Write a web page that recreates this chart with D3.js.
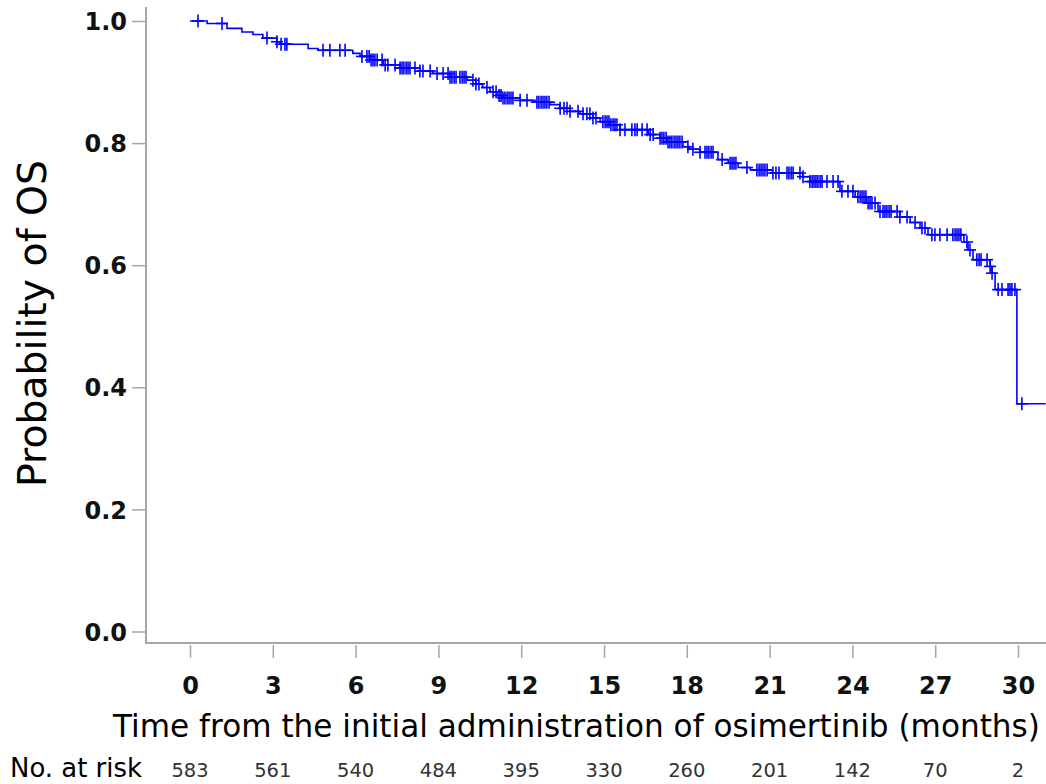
<!DOCTYPE html>
<html><head><meta charset="utf-8">
<script src="https://cdn.jsdelivr.net/npm/d3@7"></script>
<style>body{margin:0;background:#fff}svg{display:block}</style>
</head><body>
<svg id="c" width="1046" height="784"></svg>
<script>
// ---- data ----
const xTicks = [0,3,6,9,12,15,18,21,24,27,30];
const yTicks = [0.0,0.2,0.4,0.6,0.8,1.0];
const atRisk = [583,561,540,484,395,330,260,201,142,70,2];
// KM steps: time (months) and survival after the step
const stepTimes = [0.62,1.34,1.88,2.28,2.64,3.15,3.26,4.28,4.64,5.90,6.16,6.52,7.00,7.60,8.33,8.80,9.42,10.04,10.36,10.60,10.87,11.12,11.34,11.96,12.50,13.04,13.40,13.77,14.13,14.60,14.86,15.20,15.58,16.60,17.03,17.28,17.86,18.10,18.48,19.13,19.50,19.86,20.30,21.10,22.20,22.46,23.55,24.10,24.50,24.93,25.72,26.09,26.45,26.74,28.04,28.19,28.37,28.99,29.06,29.17,29.96];
const stepSurv  = [0.996,0.988,0.982,0.978,0.972,0.966,0.962,0.955,0.952,0.947,0.942,0.936,0.928,0.923,0.918,0.914,0.908,0.903,0.897,0.891,0.884,0.878,0.874,0.870,0.867,0.863,0.857,0.852,0.848,0.841,0.835,0.830,0.822,0.814,0.808,0.802,0.794,0.790,0.785,0.773,0.767,0.760,0.756,0.751,0.745,0.737,0.721,0.712,0.702,0.688,0.679,0.670,0.661,0.650,0.638,0.625,0.609,0.598,0.587,0.560,0.373];
const censorTimes = [0.29,1.16,2.79,3.15,3.30,3.44,3.51,4.82,5.07,5.43,5.62,6.23,6.41,6.49,6.56,6.63,6.70,6.78,6.96,7.07,7.17,7.43,7.61,7.68,7.75,7.83,7.90,7.97,8.15,8.33,8.44,8.70,8.95,9.17,9.35,9.42,9.49,9.57,9.64,9.78,9.86,9.93,10.00,10.25,10.36,10.47,10.76,10.98,11.09,11.20,11.27,11.34,11.41,11.49,11.56,11.63,11.70,11.96,12.21,12.57,12.64,12.72,12.79,12.86,12.93,13.01,13.41,13.55,13.66,13.77,14.06,14.24,14.38,14.49,14.60,14.71,14.96,15.04,15.11,15.18,15.25,15.33,15.40,15.47,15.58,15.76,16.01,16.12,16.20,16.38,16.56,16.67,16.78,17.03,17.10,17.17,17.25,17.32,17.39,17.46,17.54,17.61,17.68,17.75,17.83,18.04,18.22,18.48,18.66,18.73,18.80,18.88,18.95,19.28,19.57,19.64,19.71,19.78,20.18,20.54,20.62,20.69,20.76,20.83,20.91,21.12,21.23,21.34,21.63,21.70,21.78,21.85,22.10,22.21,22.46,22.54,22.61,22.68,22.75,22.83,22.90,23.08,23.30,23.48,23.62,23.84,24.02,24.20,24.28,24.35,24.42,24.49,24.57,24.64,24.71,24.82,25.00,25.11,25.18,25.25,25.33,25.40,25.62,25.72,25.98,26.27,26.52,26.63,26.88,26.99,27.17,27.43,27.64,27.72,27.79,27.86,27.93,28.15,28.26,28.51,28.59,28.66,28.88,28.99,29.06,29.28,29.42,29.64,29.71,29.78,29.89,30.14];
const endTime = 31;
const xTitle = "Time from the initial administration of osimertinib (months)";
const yTitle = "Probability of OS";
const riskLabel = "No. at risk";

// ---- drawing ----
const svg = d3.select("#c");
const x = d3.scaleLinear().domain([0,30]).range([190,1018]);
const y = d3.scaleLinear().domain([0,1]).range([631.5,21]);
const axisCol = "#a6a6a6";
const fontT = "'DejaVu Sans', Verdana, sans-serif";

function fit(sel, target){
  const w = sel.node().getComputedTextLength();
  const fs = parseFloat(sel.attr("font-size"));
  sel.attr("font-size", (fs*target/w).toFixed(2));
}

// axis lines
svg.append("line").attr("x1",146).attr("x2",146).attr("y1",7).attr("y2",644)
  .attr("stroke",axisCol).attr("stroke-width",2);
svg.append("line").attr("x1",145).attr("x2",1046).attr("y1",643).attr("y2",643)
  .attr("stroke",axisCol).attr("stroke-width",2);

const gy = svg.append("g").attr("transform","translate(145,0)")
  .call(d3.axisLeft(y).tickValues(yTicks).tickFormat(d3.format(".1f")).tickSize(13).tickPadding(5));
gy.select(".domain").remove();
gy.selectAll("line").attr("stroke",axisCol).attr("stroke-width",1.5);
gy.selectAll("text").attr("font-family",fontT).attr("font-weight","bold")
  .attr("font-size",24).attr("fill","#111").attr("dy","0.36em");

const gx = svg.append("g").attr("transform","translate(0,645)")
  .call(d3.axisBottom(x).tickValues(xTicks).tickSize(13));
gx.select(".domain").remove();
gx.selectAll("line").attr("stroke",axisCol).attr("stroke-width",1.5);
gx.selectAll("text").attr("font-family",fontT).attr("font-weight","bold")
  .attr("font-size",24).attr("fill","#111").attr("y",48.5).attr("dy",0);

// KM curve
const pts = [[0,1]];
let prev = 1;
stepTimes.forEach((t,i)=>{ pts.push([t,prev]); pts.push([t,stepSurv[i]]); prev = stepSurv[i]; });
pts.push([endTime,prev]);
const line = d3.line().x(d=>x(d[0])).y(d=>y(d[1]));
svg.append("path").attr("d",line(pts)).attr("fill","none").attr("stroke","#0000ff").attr("stroke-width",1.6);

function survAt(t){ let s=1; for(let i=0;i<stepTimes.length;i++){ if(stepTimes[i]<=t) s=stepSurv[i]; } return s; }
const cg = svg.append("g").attr("stroke","#0000ff").attr("stroke-width",1.6);
censorTimes.forEach(t=>{
  const cx = x(t), cy = y(survAt(t));
  cg.append("line").attr("x1",cx).attr("x2",cx).attr("y1",cy-6.5).attr("y2",cy+6.5);
  cg.append("line").attr("x1",cx-6).attr("x2",cx+6).attr("y1",cy).attr("y2",cy);
});

// titles
const xt = svg.append("text").attr("x",576.5).attr("y",737).attr("text-anchor","middle")
  .attr("font-family",fontT).attr("font-size",28).attr("fill","#000").text(xTitle);
fit(xt, 927);
const yt = svg.append("text").attr("transform","translate(46,323.5) rotate(-90)").attr("text-anchor","middle")
  .attr("font-family",fontT).attr("font-size",30).attr("fill","#000").text(yTitle);
fit(yt, 327);
const rl = svg.append("text").attr("x",10).attr("y",777).attr("font-family",fontT).attr("font-size",24)
  .attr("fill","#000").text(riskLabel);
fit(rl, 132);
svg.append("g").selectAll("text").data(atRisk).join("text")
  .attr("x",(d,i)=>x(xTicks[i])).attr("y",777).attr("text-anchor","middle")
  .attr("font-family",fontT).attr("font-size",19.5).attr("fill","#333").text(d=>d);
</script>
</body></html>
